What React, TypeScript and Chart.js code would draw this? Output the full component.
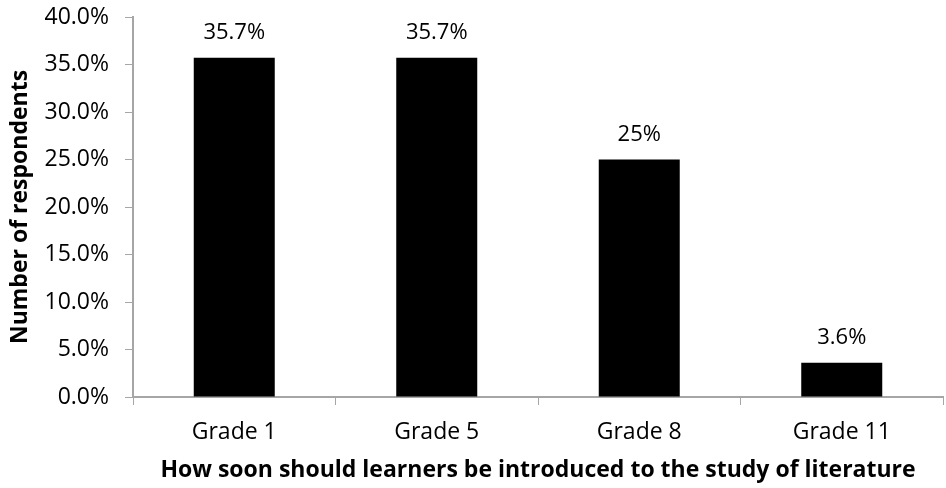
import React, { useEffect, useRef } from "react";
import { Chart, registerables } from "chart.js";

Chart.register(...registerables);

const categories = ["Grade 1", "Grade 5", "Grade 8", "Grade 11"];
const values = [35.7, 35.7, 25, 3.6];
const valueLabels = ["35.7%", "35.7%", "25%", "3.6%"];
const yTicks = [0, 5, 10, 15, 20, 25, 30, 35, 40];
const yTitle = "Number of respondents";
const xTitle = "How soon should learners be introduced to the study of literature";

const FONT = "'Open Sans', 'Liberation Sans', sans-serif";

const labelPlugin = {
  id: "valueLabels",
  afterDatasetsDraw(chart: any) {
    const ctx = chart.ctx;
    const meta = chart.getDatasetMeta(0);
    ctx.save();
    ctx.font = `22px ${FONT}`;
    ctx.fillStyle = "#000";
    ctx.textAlign = "center";
    ctx.textBaseline = "bottom";
    meta.data.forEach((bar: any, i: number) => {
      ctx.fillText(valueLabels[i], bar.x, bar.y - 14);
    });
    ctx.restore();
  },
};

export default function App() {
  const ref = useRef<HTMLCanvasElement>(null);
  useEffect(() => {
    document.body.style.margin = "0";
    const chart = new Chart(ref.current!, {
      type: "bar",
      data: {
        labels: categories,
        datasets: [
          {
            data: values,
            backgroundColor: "#000",
            borderWidth: 0,
            barPercentage: 0.4,
            categoryPercentage: 1,
          },
        ],
      },
      plugins: [labelPlugin],
      options: {
        responsive: false,
        animation: false,
        devicePixelRatio: 1,
        layout: { padding: { top: 17, right: 3, left: 0, bottom: 0 } },
        plugins: { legend: { display: false }, tooltip: { enabled: false } },
        scales: {
          x: {
            grid: {
              display: true,
              drawOnChartArea: false,
              drawTicks: true,
              tickLength: 8,
              color: "#a6a6a6",
              offset: true,
            },
            border: { display: true, color: "#a6a6a6", width: 2 },
            ticks: { color: "#000", font: { family: FONT, size: 23 }, padding: 14 },
            title: {
              display: true,
              text: xTitle,
              color: "#000",
              font: { family: FONT, size: 23, weight: "bold" },
              padding: { top: 4, bottom: 4 },
            },
            afterFit(scale: any) {
              scale.height = 91;
              scale.paddingLeft = 0;
              scale.paddingRight = 0;
            },
          },
          y: {
            min: 0,
            max: 40,
            afterBuildTicks(scale: any) {
              scale.ticks = yTicks.map((v) => ({ value: v }));
            },
            grid: {
              display: true,
              drawOnChartArea: false,
              drawTicks: true,
              tickLength: 8,
              color: "#a6a6a6",
            },
            border: { display: true, color: "#a6a6a6", width: 2 },
            ticks: {
              color: "#000",
              font: { family: FONT, size: 23 },
              padding: 16,
              callback: (v: any) => Number(v).toFixed(1) + "%",
            },
            title: {
              display: true,
              text: yTitle,
              color: "#000",
              font: { family: FONT, size: 23, weight: "bold" },
              padding: { top: 7, bottom: 0 },
            },
            afterFit(scale: any) {
              scale.width = 133;
              scale.paddingTop = 0;
              scale.paddingBottom = 0;
            },
          },
        },
      },
    });
    return () => chart.destroy();
  }, []);
  return (
    <div style={{ width: 946, height: 488 }}>
      <canvas ref={ref} width={946} height={488} style={{ display: "block" }} />
    </div>
  );
}
